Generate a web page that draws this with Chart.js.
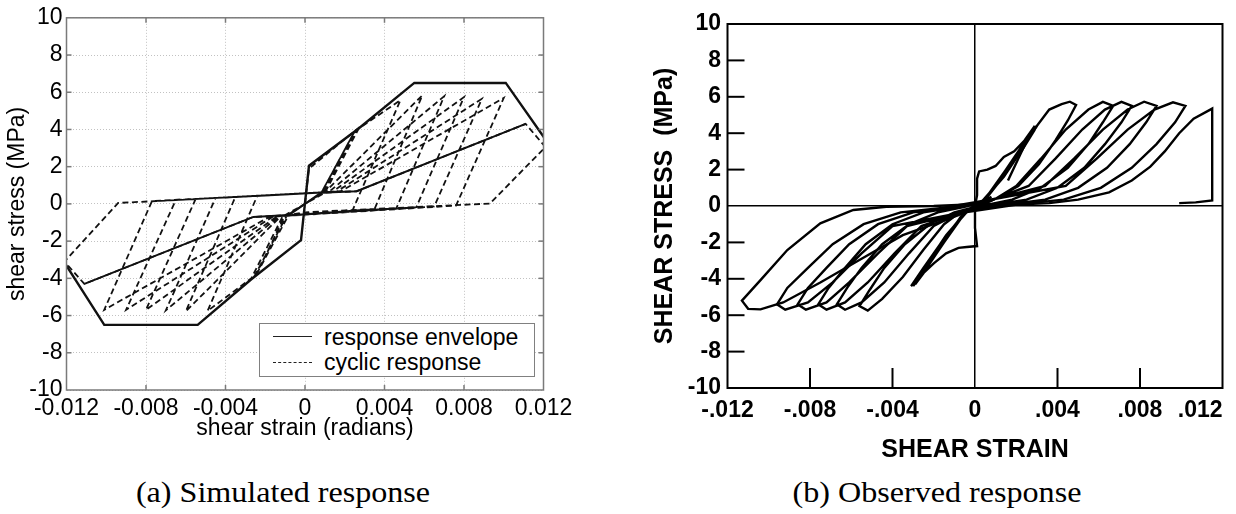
<!DOCTYPE html>
<html><head><meta charset="utf-8">
<script src="https://cdn.jsdelivr.net/npm/chart.js@4.4.1/dist/chart.umd.min.js"></script>
<style>
html,body{margin:0;padding:0;background:#fff;width:1236px;height:514px;overflow:hidden;position:relative;}
#left{position:absolute;left:0;top:0;}
#right{position:absolute;left:600px;top:0;}
.legend{position:absolute;left:259px;top:323px;width:274px;height:52px;border:1.5px solid #808080;background:#fff;font-family:"Liberation Sans",Arial,sans-serif;font-size:23px;color:#000;}
.legend .s{position:absolute;left:13px;width:39px;height:0;}
.legend .t{position:absolute;left:64px;line-height:26px;white-space:nowrap;}
.caption{position:absolute;width:600px;text-align:center;font-family:"Liberation Serif","Times New Roman",serif;font-size:30px;line-height:34px;color:#000;transform:scaleX(1.07);}
</style></head>
<body>
<canvas id="left" width="600" height="460"></canvas>
<canvas id="right" width="690" height="470"></canvas>
<div class="legend">
  <div class="s" style="top:12px;border-top:1px solid #222;"></div>
  <div class="t" style="top:0px;">response envelope</div>
  <div class="s" style="top:38px;border-top:1px dashed #222;"></div>
  <div class="t" style="top:25px;">cyclic response</div>
</div>
<div class="caption" style="left:-17px;top:475px;">(a) Simulated response</div>
<div class="caption" style="left:637px;top:475px;">(b) Observed response</div>
<script>
// ---------- axis ticks ----------
const strainTicks = [-0.012,-0.008,-0.004,0,0.004,0.008,0.012];
const strainLabelsA = ['-0.012','-0.008','-0.004','0','0.004','0.008','0.012'];
const strainLabelsB = ['-.012','-.008','-.004','0','.004','.008','.012'];
const stressTicks = [-10,-8,-6,-4,-2,0,2,4,6,8,10];
const stressLabels = ['-10','-8','-6','-4','-2','0','2','4','6','8','10'];

// ---------- (a) simulated response ----------
const envStrain = [-0.0121,-0.0101,-0.0054,-0.0027,-0.0002,0.0002,0.0027,0.0055,0.0101,0.0121];
const envStress = [-3.16,-6.5,-6.5,-4.05,-1.95,2.05,4.05,6.5,6.5,3.46];
const degStrain = [-0.0111,-0.0026,-0.0008,0.0008,0.0026,0.0111];
const degStress = [-4.3,-0.7,-0.6,0.6,0.68,4.3];
const cycStrain = [0,0.0002,0.0026,0.0009,-0.0009,-0.0026,-0.0009,0.0008,0.0025,0.0008,-0.0008,-0.0025,-0.0010,0.0010,0.0027,
  0.0048,0.0024,-0.0011,-0.0027,-0.0049,-0.0024,0.0010,
  0.0059,0.0035,-0.0012,-0.0060,-0.0035,0.0012,
  0.0070,0.0046,-0.0013,-0.0070,-0.0045,0.0014,
  0.0080,0.0056,-0.0014,-0.0080,-0.0055,0.0016,
  0.0089,0.0065,-0.0016,-0.0090,-0.0065,0.0018,
  0.0100,0.0076,-0.0018,-0.0101,-0.0077,0.0008,
  0.0026,0.0111,0.0121,0.0093,0.0000,-0.0008,-0.0026,-0.0111,-0.0121,-0.0094,0.0008];
const cycStress = [0,1.9,4.0,0.6,-0.6,-4.0,-0.6,0.55,3.9,0.55,-0.55,-3.9,-0.6,0.6,4.05,
  5.57,-0.33,-0.62,-4.0,-5.75,0.44,0.63,
  5.83,-0.28,-0.64,-5.78,0.38,0.64,
  5.78,-0.23,-0.65,-5.72,0.32,0.66,
  5.74,-0.18,-0.66,-5.69,0.27,0.67,
  5.65,-0.14,-0.68,-5.69,0.21,0.68,
  5.69,-0.09,-0.70,-5.69,0.15,0.60,
  0.68,4.30,3.05,0.02,-0.45,-0.60,-0.70,-4.30,-3.10,0.05,0.60];

// ---------- (b) observed response ----------
const obsInitialStrain = [0,0.0001,0.0001,0.0002,0.0006,0.0010,0.0014,0.0019,0.0024,0.0029,
  0.0024,0.0015,0.0006,0,0,0.0001,-0.0004,-0.0008,-0.0014,-0.0020,-0.0027,-0.0031,
  -0.0025,-0.0015,-0.0006,0.0005,
  0.0015,0.0024,0.0030,0.0024,0.0014,0.0004,-0.0005,-0.0015,-0.0024,-0.0030,-0.0024,-0.0014,-0.0004,0.0005,
  0.0016,0.0025,0.0029,0.0023,0.0013,0.0003,-0.0006,-0.0016,-0.0025,-0.0029,-0.0023,-0.0013,-0.0003,0.0008];
const obsInitialStress = [0,0.6,1.5,1.9,2.0,2.2,2.7,3.0,3.6,4.4,
  3.4,1.8,0.5,-0.2,-1.2,-2.2,-2.25,-2.3,-2.6,-3.15,-3.9,-4.4,
  -3.4,-1.8,-0.5,0.4,
  2.0,3.5,4.4,3.3,1.6,0.3,-0.4,-2.0,-3.5,-4.4,-3.3,-1.6,-0.3,0.4,
  2.1,3.7,4.2,3.1,1.5,0.2,-0.45,-2.1,-3.7,-4.3,-3.1,-1.5,-0.2,0.5];
const obsCycleStrain = [
  0.0016,0.0026,0.0036,0.0042,0.0046,0.0049,0.0045,0.0039,0.0031,0.0021,0.0010,0.0000,-0.0008,
  -0.0015,-0.0025,-0.0035,-0.0045,-0.0052,-0.0056,-0.0051,-0.0044,-0.0034,-0.0022,-0.0010,0.0002,0.0010,
  0.0020,0.0032,0.0044,0.0055,0.0062,0.0067,0.0062,0.0055,0.0045,0.0032,0.0018,0.0005,-0.0008,
  -0.0020,-0.0032,-0.0044,-0.0055,-0.0063,-0.0067,-0.0062,-0.0055,-0.0045,-0.0032,-0.0018,-0.0005,0.0010,
  0.0026,0.0039,0.0052,0.0063,0.0071,0.0076,0.0071,0.0063,0.0053,0.0040,0.0025,0.0010,-0.0008,
  -0.0026,-0.0039,-0.0052,-0.0063,-0.0072,-0.0076,-0.0071,-0.0063,-0.0053,-0.0040,-0.0025,-0.0010,0.0010,
  0.0034,0.0048,0.0062,0.0074,0.0082,0.0088,0.0083,0.0075,0.0064,0.0050,0.0034,0.0017,-0.0008,
  -0.0033,-0.0047,-0.0061,-0.0072,-0.0082,-0.0086,-0.0081,-0.0072,-0.0061,-0.0047,-0.0030,-0.0013,0.0010,
  0.0044,0.0059,0.0074,0.0087,0.0096,0.0102,0.0097,0.0088,0.0076,0.0061,0.0043,0.0022,-0.0008,
  -0.0040,-0.0055,-0.0069,-0.0081,-0.0092,-0.0096,-0.0091,-0.0081,-0.0069,-0.0054,-0.0036,-0.0016,0.0010];
const obsCycleStress = [
  1.4,3.8,5.3,5.6,5.73,5.55,4.7,3.6,2.3,1.1,0.4,0.0,-0.4,
  -1.0,-2.4,-3.9,-5.1,-5.75,-5.5,-4.6,-3.4,-2.1,-1.0,-0.35,0.0,0.4,
  1.1,2.6,4.2,5.3,5.72,5.5,4.6,3.4,2.1,1.0,0.35,0.05,-0.4,
  -1.1,-2.6,-4.2,-5.3,-5.7,-5.4,-4.5,-3.4,-2.1,-1.0,-0.35,-0.05,0.4,
  1.1,2.6,4.2,5.3,5.72,5.5,4.6,3.4,2.1,1.0,0.35,0.08,-0.4,
  -1.1,-2.6,-4.2,-5.3,-5.7,-5.4,-4.5,-3.4,-2.1,-1.0,-0.35,-0.08,0.4,
  1.1,2.6,4.2,5.3,5.73,5.5,4.6,3.4,2.1,1.0,0.35,0.1,-0.4,
  -1.1,-2.6,-4.2,-5.3,-5.7,-5.4,-4.5,-3.4,-2.1,-1.0,-0.35,-0.1,0.4,
  1.1,2.6,4.2,5.3,5.7,5.5,4.6,3.4,2.1,1.0,0.35,0.1,-0.4,
  -1.1,-2.6,-4.2,-5.3,-5.7,-5.4,-4.5,-3.4,-2.1,-1.0,-0.35,-0.1,0.4];
const obsFinalStrain = [0.0010,-0.0008,-0.0035,-0.0055,-0.0075,-0.0093,-0.0104,-0.0110,-0.0113,-0.0104,-0.0091,-0.0075,-0.0059,-0.0043,-0.0020,0.0000,
  0.0020,0.0036,0.0050,0.0065,0.0076,0.0085,0.0092,0.0099,0.0106,0.0115,0.0115,0.0115,0.0107,0.0099];
const obsFinalStress = [0.4,-0.5,-1.6,-2.9,-4.2,-5.3,-5.68,-5.65,-5.2,-4.07,-2.42,-0.95,-0.22,-0.04,0.0,0.1,
  0.08,0.16,0.35,0.75,1.4,2.16,3.0,4.0,4.8,5.35,3.0,0.3,0.2,0.16];

// ---------- helpers ----------
function pts(xs, ys){ return xs.map((x,i)=>({x:x, y:ys[i]})); }
Chart.defaults.font.family = '"Liberation Sans", Arial, sans-serif';
Chart.defaults.color = '#000';

const framePlugin = {
  id: 'frame',
  afterDatasetsDraw(chart, args, opts) {
    const ctx = chart.ctx, a = chart.chartArea;
    ctx.save();
    ctx.strokeStyle = opts.color; ctx.lineWidth = opts.width;
    (opts.ticks || []).forEach(t => {
      const scale = chart.scales[t.axis];
      scale.ticks.forEach(tk => {
        if ((t.skip || []).some(s => Math.abs(s - tk.value) < 1e-9)) return;
        const p = scale.getPixelForValue(tk.value);
        ctx.beginPath();
        if (t.side === 'left')   { ctx.moveTo(a.left, p);   ctx.lineTo(a.left + t.len, p); }
        if (t.side === 'right')  { ctx.moveTo(a.right, p);  ctx.lineTo(a.right - t.len, p); }
        if (t.side === 'bottom') { ctx.moveTo(p, a.bottom); ctx.lineTo(p, a.bottom - t.len); }
        if (t.side === 'top')    { ctx.moveTo(p, a.top);    ctx.lineTo(p, a.top + t.len); }
        ctx.stroke();
      });
    });
    ctx.strokeRect(a.left, a.top, a.right - a.left, a.bottom - a.top);
    ctx.restore();
  }
};

// ---------- chart (a) ----------
new Chart(document.getElementById('left'), {
  type: 'scatter',
  data: { datasets: [
    { label: 'response envelope', data: pts(envStrain, envStress), showLine: true, borderColor: '#111', borderWidth: 2.4, pointRadius: 0 },
    { label: 'response envelope', data: pts(degStrain, degStress), showLine: true, borderColor: '#111', borderWidth: 2, pointRadius: 0 },
    { label: 'cyclic response', data: pts(cycStrain, cycStress), showLine: true, borderColor: '#111', borderWidth: 1.8, borderDash: [6, 3.5], pointRadius: 0 }
  ]},
  options: {
    responsive: false, animation: false, devicePixelRatio: 1,
    layout: { padding: { left: 0, top: 15, right: 56.5, bottom: 0 } },
    plugins: {
      legend: { display: false }, tooltip: { enabled: false },
      frame: { color: '#7a7a7a', width: 1.5, ticks: [
        { axis: 'y', side: 'left', len: 5, skip: [-10, 10] }, { axis: 'y', side: 'right', len: 5, skip: [-10, 10] },
        { axis: 'x', side: 'bottom', len: 5, skip: [-0.012, 0.012] }, { axis: 'x', side: 'top', len: 5, skip: [-0.012, 0.012] } ] }
    },
    scales: {
      x: { type: 'linear', min: -0.012, max: 0.012,
        afterBuildTicks: s => { s.ticks = strainTicks.map(v => ({ value: v })); },
        afterFit: s => { s.height = 70; },
        ticks: { callback: (v, i) => strainLabelsA[i], font: { size: 23 }, padding: 5, maxRotation: 0, autoSkip: false, color: '#000' },
        grid: { color: '#c2c2c2', lineWidth: 1, drawTicks: false },
        border: { display: false, dash: [1, 2] },
        title: { display: true, text: 'shear strain (radians)', font: { size: 23 }, color: '#000', padding: { top: 0, bottom: 18 } } },
      y: { type: 'linear', min: -10, max: 10,
        afterBuildTicks: s => { s.ticks = stressTicks.map(v => ({ value: v })); },
        afterFit: s => { s.width = 66.5; },
        ticks: { callback: (v, i) => stressLabels[i], font: { size: 23 }, padding: 4, autoSkip: false, color: '#000' },
        grid: { color: '#c2c2c2', lineWidth: 1, drawTicks: false },
        border: { display: false, dash: [1, 2] },
        title: { display: true, text: 'shear stress (MPa)', font: { size: 23 }, color: '#000', padding: { top: 4, bottom: 0 } } }
    }
  },
  plugins: [framePlugin]
});

// ---------- chart (b) ----------
const zeroLine = c => (c.tick && c.tick.value === 0) ? '#000' : 'rgba(0,0,0,0)';
new Chart(document.getElementById('right'), {
  type: 'scatter',
  data: { datasets: [
    { label: 'observed', data: pts(obsInitialStrain, obsInitialStress), showLine: true, borderColor: '#000', borderWidth: 2.4, pointRadius: 0 },
    { label: 'observed', data: pts(obsCycleStrain, obsCycleStress), showLine: true, borderColor: '#000', borderWidth: 2.4, pointRadius: 0 },
    { label: 'observed', data: pts(obsFinalStrain, obsFinalStress), showLine: true, borderColor: '#000', borderWidth: 2.4, pointRadius: 0 }
  ]},
  options: {
    responsive: false, animation: false, devicePixelRatio: 1,
    layout: { padding: { left: 0, top: 24, right: 67.5, bottom: 0 } },
    plugins: {
      legend: { display: false }, tooltip: { enabled: false },
      frame: { color: '#000', width: 2, ticks: [
        { axis: 'y', side: 'left', len: 17, skip: [-10, 0, 10] },
        { axis: 'x', side: 'bottom', len: 20, skip: [-0.012, 0, 0.012] } ] }
    },
    scales: {
      x: { type: 'linear', min: -0.012, max: 0.012,
        afterBuildTicks: s => { s.ticks = strainTicks.map(v => ({ value: v })); },
        afterFit: s => { s.height = 82; },
        ticks: { callback: (v, i) => i === strainLabelsB.length - 1 ? strainLabelsB[i] + '\u00A0'.repeat(7) : strainLabelsB[i],
          font: { size: 23, weight: 'bold' }, padding: 9, maxRotation: 0, autoSkip: false, color: '#000' },
        grid: { color: zeroLine, lineWidth: 1.5, drawTicks: false },
        border: { display: false },
        title: { display: true, text: 'SHEAR STRAIN', font: { size: 25, weight: 'bold' }, color: '#000', padding: { top: 0, bottom: 5 } } },
      y: { type: 'linear', min: -10, max: 10,
        afterBuildTicks: s => { s.ticks = stressTicks.map(v => ({ value: v })); },
        afterFit: s => { s.width = 127.5; },
        ticks: { callback: (v, i) => stressLabels[i], font: { size: 23, weight: 'bold' }, padding: 6.5, autoSkip: false, color: '#000' },
        grid: { color: zeroLine, lineWidth: 1.5, drawTicks: false },
        border: { display: false },
        title: { display: true, text: 'SHEAR STRESS  (MPa)', font: { size: 25, weight: 'bold' }, color: '#000', padding: { top: 50, bottom: 0 } } }
    }
  },
  plugins: [framePlugin]
});
</script>
</body></html>
